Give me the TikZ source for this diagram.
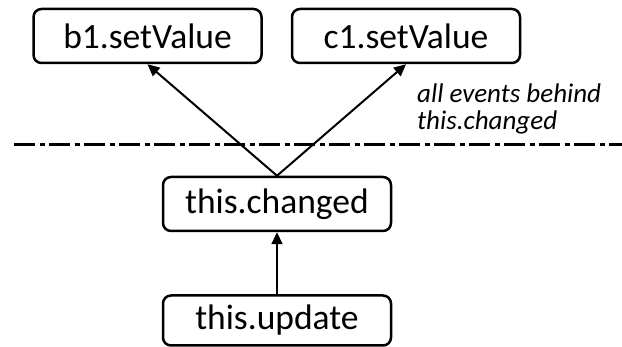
\documentclass[tikz,border=0pt]{standalone}
\usepackage{fontspec}
\setmainfont{Carlito}
\usetikzlibrary{arrows.meta}
\begin{document}
\begin{tikzpicture}[x=1pt, y=1pt, >={Triangle[length=12pt,width=11pt]},
    event/.style={draw, line width=2.5pt, rounded corners=8pt,
        minimum width=228pt, minimum height=54pt, inner sep=0pt,
        font=\fontsize{35.5}{40}\selectfont},
    trigger/.style={->, line width=2pt}]
    \useasboundingbox (0,0) rectangle (622,347);

    % Events fired behind this.changed (top row)
    \node[event] (b1) at (147.5,311) {b1.setValue};
    \node[event] (c1) at (406,311) {c1.setValue};

    % Boundary between the two levels
    \draw[line width=3pt, dash pattern=on 21pt off 4.5pt on 5pt off 4.5pt]
        (14,202) -- (622,202);
    \node[anchor=north west, align=left, inner sep=0pt,
        font=\fontsize{27}{26.5}\selectfont\itshape] (note) at (417,263)
        {all events behind\\this.changed};

    % Lower events
    \node[event] (chg) at (277,143) {this.changed};
    \node[event, minimum height=50pt] (upd) at (277,26.5) {this.update};

    % Triggers
    \draw[trigger] (upd) -- (chg);
    \draw[trigger] (chg.north) -- (b1.south);
    \draw[trigger] (chg.north) -- (c1.south);
\end{tikzpicture}
\end{document}
